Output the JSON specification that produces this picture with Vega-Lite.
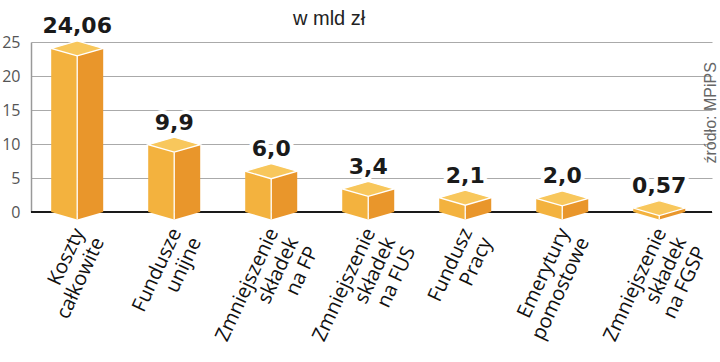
{
  "$schema": "https://vega.github.io/schema/vega-lite/v6.json",
  "width": 681,
  "height": 170,
  "autosize": "none",
  "padding": {"left": 31, "top": 42, "right": 8, "bottom": 150},
  "background": "white",
  "title": {
    "text": "w mld zł",
    "anchor": "start",
    "frame": "group",
    "dx": 262,
    "dy": 39,
    "offset": 9,
    "baseline": "alphabetic",
    "font": "Liberation Sans",
    "fontSize": 20,
    "fontWeight": "normal",
    "color": "#222222"
  },
  "data": {
    "values": [
      {"kat": "Koszty|całkowite", "v": 24.06, "lab": "24,06"},
      {"kat": "Fundusze|unijne", "v": 9.9, "lab": "9,9"},
      {"kat": "Zmniejszenie|składek|na FP", "v": 6.0, "lab": "6,0"},
      {"kat": "Zmniejszenie|składek|na FUS", "v": 3.4, "lab": "3,4"},
      {"kat": "Fundusz|Pracy", "v": 2.1, "lab": "2,1"},
      {"kat": "Emerytury|pomostowe", "v": 2.0, "lab": "2,0"},
      {"kat": "Zmniejszenie|składek|na FGSP", "v": 0.57, "lab": "0,57"}
    ]
  },
  "resolve": {"axis": {"y": "independent"}},
  "layer": [
    {
      "data": {"values": [{"z": 0}]},
      "mark": {"type": "rule", "color": "#1a1a1a", "strokeWidth": 2},
      "encoding": {
        "y": {
          "field": "z", "type": "quantitative",
          "scale": {"domain": [0, 25], "nice": false},
          "axis": {
            "orient": "right", "title": "źródło: MPiPS", "labels": false, "ticks": false,
            "domain": false, "grid": false, "titleAngle": -90, "titleAlign": "left",
            "titleBaseline": "alphabetic", "titleX": 3, "titleY": 121,
            "titleFont": "Liberation Sans", "titleFontSize": 16, "titleFontWeight": "normal",
            "titleColor": "#666666"
          }
        }
      }
    },
    {
      "mark": {"type": "bar", "width": 26, "xOffset": -13, "color": "#F3B23E"},
      "encoding": {
        "x": {"field": "kat", "type": "nominal", "sort": null, "title": null,
              "scale": {"paddingInner": 0.5, "paddingOuter": 0.26, "align": 0.435}},
        "y": {
          "field": "v", "type": "quantitative",
          "scale": {"domain": [0, 25], "nice": false},
          "axis": {
            "orient": "left", "title": null, "values": [0, 5, 10, 15, 20, 25],
            "domain": true, "domainColor": "#999999", "domainWidth": 1.5, "ticks": false,
            "grid": true, "gridColor": "#aaaaaa", "gridWidth": 1,
            "labelFont": "Open Sans", "labelFontSize": 16, "labelColor": "#555555", "labelPadding": 11
          }
        }
      }
    },
    {
      "mark": {"type": "bar", "width": 26, "xOffset": 13, "color": "#E9962B"},
      "encoding": {
        "x": {"field": "kat", "type": "nominal", "sort": null, "title": null,
              "scale": {"paddingInner": 0.5, "paddingOuter": 0.26, "align": 0.435}},
        "y": {"field": "v", "type": "quantitative", "scale": {"domain": [0, 25], "nice": false}, "axis": null}
      }
    },
    {
      "mark": {"type": "point", "shape": "M-26,0L0,7.5L0,0Z", "size": 4, "filled": true, "opacity": 1, "color": "#F3B23E"},
      "encoding": {
        "x": {"field": "kat", "type": "nominal", "sort": null, "title": null,
              "scale": {"paddingInner": 0.5, "paddingOuter": 0.26, "align": 0.435}},
        "y": {"datum": 0, "type": "quantitative", "scale": {"domain": [0, 25], "nice": false}, "axis": null}
      }
    },
    {
      "mark": {"type": "point", "shape": "M0,0L0,7.5L26,0Z", "size": 4, "filled": true, "opacity": 1, "color": "#E9962B"},
      "encoding": {
        "x": {"field": "kat", "type": "nominal", "sort": null, "title": null,
              "scale": {"paddingInner": 0.5, "paddingOuter": 0.26, "align": 0.435}},
        "y": {"datum": 0, "type": "quantitative", "scale": {"domain": [0, 25], "nice": false}, "axis": null}
      }
    },
    {
      "mark": {"type": "rule", "color": "white", "strokeWidth": 1.3, "yOffset": 7.5, "y2Offset": 7.5},
      "encoding": {
        "x": {"field": "kat", "type": "nominal", "sort": null, "title": null,
              "scale": {"paddingInner": 0.5, "paddingOuter": 0.26, "align": 0.435}},
        "y": {"field": "v", "type": "quantitative", "scale": {"domain": [0, 25], "nice": false}, "axis": null},
        "y2": {"datum": 0}
      }
    },
    {
      "mark": {"type": "point", "shape": "M-26,0L0,-7.5L26,0L0,7.5Z", "size": 4, "filled": true, "opacity": 1,
               "fill": "#F8C75C", "stroke": "white", "strokeWidth": 1.3},
      "encoding": {
        "x": {"field": "kat", "type": "nominal", "sort": null, "title": null,
              "scale": {"paddingInner": 0.5, "paddingOuter": 0.26, "align": 0.435}},
        "y": {"field": "v", "type": "quantitative", "scale": {"domain": [0, 25], "nice": false}, "axis": null}
      }
    },
    {
      "mark": {"type": "text", "dy": -15, "baseline": "alphabetic", "align": "center", "font": "DejaVu Sans",
               "fontWeight": "bold", "fontSize": 22, "stroke": "white", "strokeWidth": 8, "strokeJoin": "round", "fill": "white"},
      "encoding": {
        "x": {"field": "kat", "type": "nominal", "sort": null, "title": null,
              "scale": {"paddingInner": 0.5, "paddingOuter": 0.26, "align": 0.435}},
        "y": {"field": "v", "type": "quantitative", "scale": {"domain": [0, 25], "nice": false}, "axis": null},
        "text": {"field": "lab"}
      }
    },
    {
      "mark": {"type": "text", "dy": -15, "baseline": "alphabetic", "align": "center", "font": "DejaVu Sans",
               "fontWeight": "bold", "fontSize": 22, "color": "#1a1a1a"},
      "encoding": {
        "x": {"field": "kat", "type": "nominal", "sort": null, "title": null,
              "scale": {"paddingInner": 0.5, "paddingOuter": 0.26, "align": 0.435}},
        "y": {"field": "v", "type": "quantitative", "scale": {"domain": [0, 25], "nice": false}, "axis": null},
        "text": {"field": "lab"}
      }
    }
  ],
  "config": {
    "view": {"stroke": null},
    "axisX": {
      "labelExpr": "split(datum.label, '|')",
      "labelAngle": -65,
      "labelFont": "Open Sans",
      "labelFontSize": 20,
      "labelLineHeight": 22,
      "labelColor": "#111111",
      "labelPadding": 17,
      "labelOffset": 2,
      "labelLimit": 0,
      "labelOverlap": false,
      "ticks": false,
      "domain": false,
      "grid": false
    }
  }
}
